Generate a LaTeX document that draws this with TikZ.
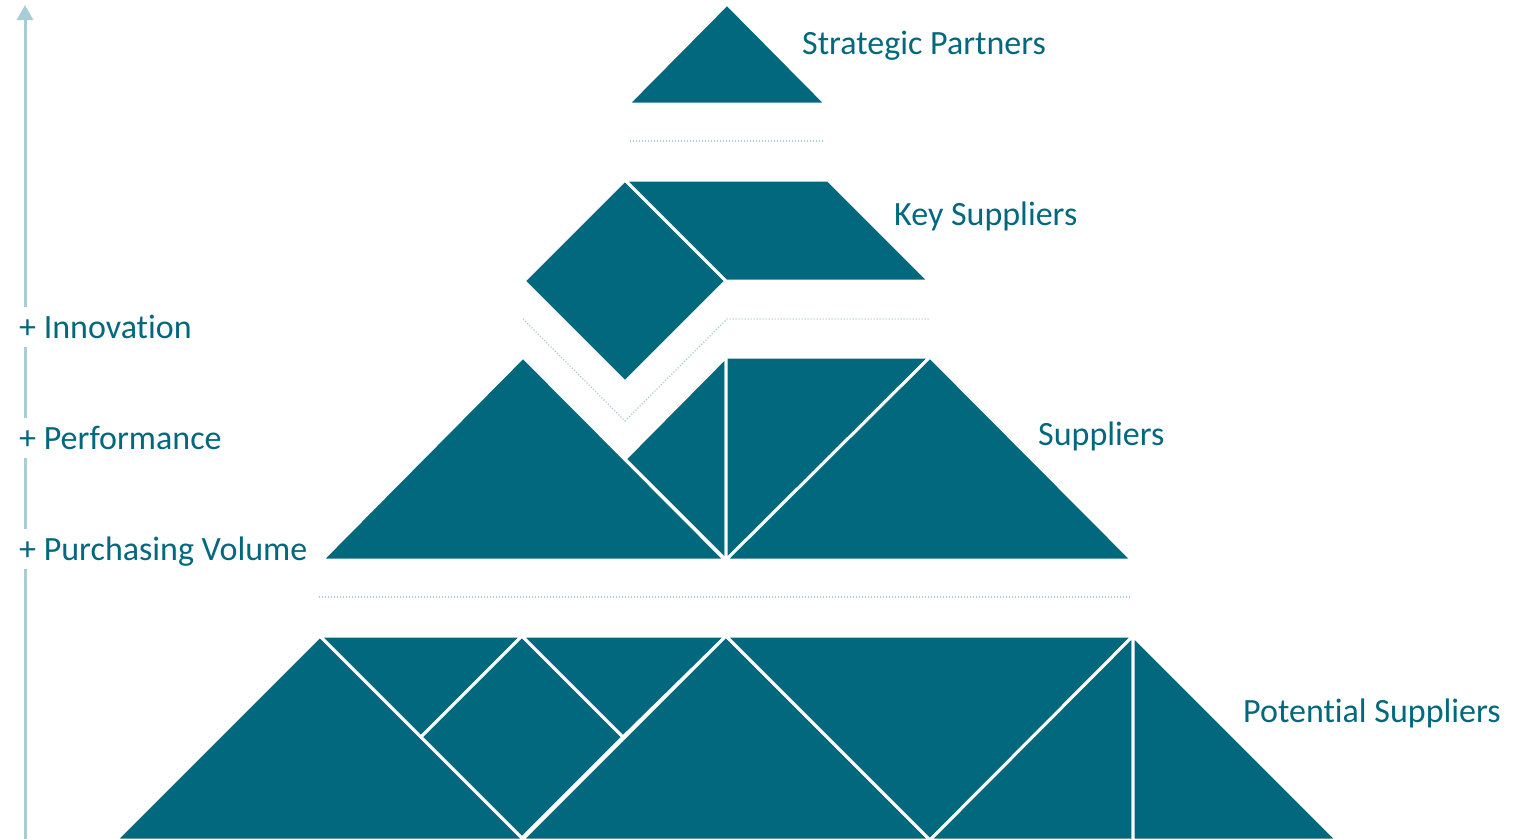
\documentclass[tikz,border=0pt]{standalone}
\usepackage{fontspec}
\setmainfont{Carlito}[Ligatures=NoCommon]
\usetikzlibrary{arrows.meta}
\definecolor{petrol}{RGB}{2,104,125}
\definecolor{skyline}{RGB}{168,204,216}
\begin{document}
\begin{tikzpicture}[x=1pt,y=-1pt,
    piece/.style={fill=petrol,draw=white,line width=3pt},
    level/.style={skyline,line width=1.2pt,dash pattern=on 1.2pt off 1.8pt},
    axis/.style={skyline,line width=3pt,-{Triangle[width=16pt,length=15pt]}},
    tier/.style={petrol,anchor=base west,inner sep=0pt,font=\fontsize{34}{34}\selectfont},
    gain/.style={tier,fill=white,text height=27pt,text depth=5pt,inner ysep=4pt}]
    \useasboundingbox (0,0) rectangle (1530,838);
    \coordinate (axisbot) at (25,840);
    \coordinate (axistop) at (25,5);
    \draw[axis] (axisbot) -- (axistop);
    \node[gain] (innov) at (19,338) {+ Innovation};
    \node[gain] (perf) at (19,449) {+ Performance};
    \node[gain] (volume) at (19,560) {+ Purchasing Volume};
    \draw[piece] (628,104) -- (727,4) -- (826,104) -- cycle;
    \draw[level] (630,141) -- (824,141);
    \draw[piece] (625,180) -- (726,281) -- (625,382) -- (524,281) -- cycle;
    \draw[piece] (625,180) -- (828,180) -- (929,281) -- (726,281) -- cycle;
    \draw[level] (523,319) -- (625,421) -- (727,319) -- (930,319);
    \draw[piece] (322,560) -- (523,357) -- (725,560) -- cycle;
    \draw[piece] (625,459) -- (726,357) -- (726,560) -- cycle;
    \draw[piece] (726,357) -- (930,357) -- (726,560) -- cycle;
    \draw[piece] (726,560) -- (930,357) -- (1132,560) -- cycle;
    \draw[level] (319,597) -- (1131,597);
    \draw[piece] (320,636) -- (116,840) -- (524,840) -- cycle;
    \draw[piece] (320,636) -- (522,636) -- (421,737) -- cycle;
    \draw[piece] (522,636) -- (623,737) -- (522,838) -- (421,737) -- cycle;
    \draw[piece] (522,636) -- (726,636) -- (623,737) -- cycle;
    \draw[piece] (726,636) -- (522,840) -- (930,840) -- cycle;
    \draw[piece] (726,636) -- (1133,636) -- (930,840) -- cycle;
    \draw[piece] (930,840) -- (1133,636) -- (1133,840) -- cycle;
    \draw[piece] (1133,636) -- (1133,840) -- (1337,840) -- cycle;
    \node[tier] (strategic) at (802,54) {Strategic Partners};
    \node[tier] (key) at (894,225) {Key Suppliers};
    \node[tier] (suppliers) at (1038,445) {Suppliers};
    \node[tier] (potential) at (1243,722) {Potential Suppliers};
\end{tikzpicture}
\end{document}
